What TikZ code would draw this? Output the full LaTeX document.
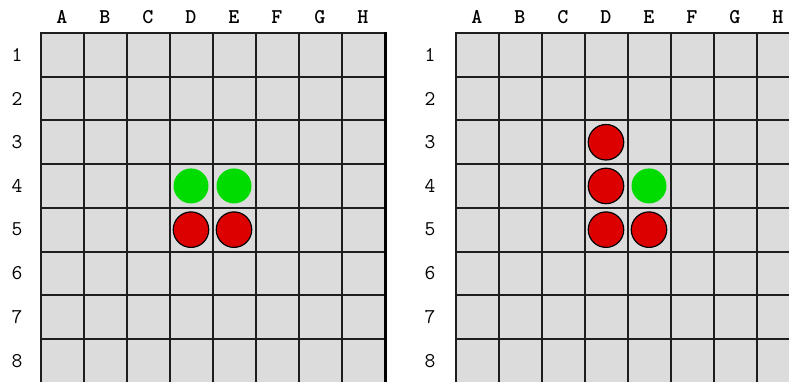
\documentclass[tikz,border=0pt]{standalone}
\definecolor{cellgray}{RGB}{220,220,220}
\definecolor{gridline}{RGB}{30,30,30}
\definecolor{pgreen}{RGB}{0,220,0}
\definecolor{pred}{RGB}{220,0,0}
\begin{document}
\begin{tikzpicture}[x=1pt,y=-1pt,
  gridln/.style={draw=gridline,line width=2pt},
  edge/.style={draw=black,line width=3.5pt},
  collab/.style={font=\ttfamily\fontsize{21}{21}\selectfont\bfseries,anchor=center,inner sep=0pt},
  rowlab/.style={font=\ttfamily\fontsize{21}{21}\selectfont,anchor=center,inner sep=0pt},
  greenpc/.style={circle,fill=pgreen,draw=none,minimum size=35pt,inner sep=0pt},
  redpc/.style={circle,fill=pred,draw=black,line width=1.2pt,minimum size=35.5pt,inner sep=0pt}]
\useasboundingbox (0,0) rectangle (789,382);
\clip (0,0) rectangle (789,382);
\fill[white] (0,0) rectangle (789,382);
\def\cw{43}
\def\rh{43.7}
\def\top{33}
\foreach \bx/\rx/\bn in {40.5/17/L,455.5/430/R} {
  \fill[cellgray] (\bx,\top) rectangle (\bx+8*\cw,390);
  \foreach \i in {0,...,8} {
    \draw[gridln] (\bx,\top+\i*\rh) -- (\bx+8*\cw,\top+\i*\rh);
  }
  \foreach \i in {0,...,7} {
    \draw[gridln] (\bx+\i*\cw,\top-1) -- (\bx+\i*\cw,390);
  }
  \draw[edge] (\bx+8*\cw+0.9,\top-1) -- (\bx+8*\cw+0.9,390);
  \foreach \c [count=\k from 0] in {A,B,C,D,E,F,G,H} {
    \node[collab] (col\bn\c) at (\bx+\k*\cw+0.5*\cw,17) {\c};
  }
  \foreach \r in {1,...,8} {
    \node[rowlab] (row\bn\r) at (\rx,\top+\r*\rh-0.5*\rh) {\r};
  }
}
% left board pieces
\node[greenpc] (LD4) at (40.5+3.5*43,33+3.5*43.7) {};
\node[greenpc] (LE4) at (40.5+4.5*43,33+3.5*43.7) {};
\node[redpc] (LD5) at (40.5+3.5*43,33+4.5*43.7) {};
\node[redpc] (LE5) at (40.5+4.5*43,33+4.5*43.7) {};
% right board pieces
\node[redpc] (RD3) at (455.5+3.5*43,33+2.5*43.7) {};
\node[redpc] (RD4) at (455.5+3.5*43,33+3.5*43.7) {};
\node[greenpc] (RE4) at (455.5+4.5*43,33+3.5*43.7) {};
\node[redpc] (RD5) at (455.5+3.5*43,33+4.5*43.7) {};
\node[redpc] (RE5) at (455.5+4.5*43,33+4.5*43.7) {};
\end{tikzpicture}
\end{document}
